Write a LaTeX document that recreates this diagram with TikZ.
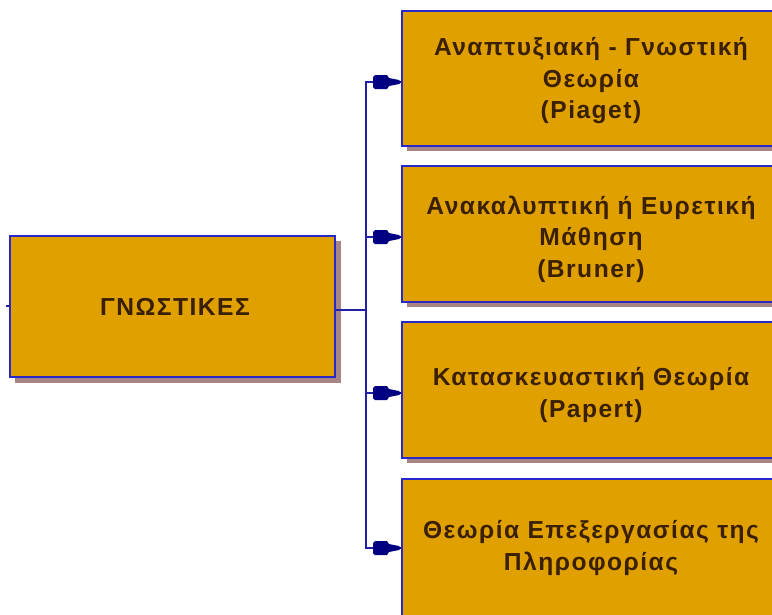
\documentclass[tikz,border=0pt]{standalone}
\usepackage{fontspec}
\setmainfont{Liberation Sans}[LetterSpace=6]
\begin{document}
\begin{tikzpicture}[x=1pt,y=-1pt,
  boxfill/.style={fill=boxc,draw=bordc,line width=1.6pt},
  lbl/.style={font=\bfseries\fontsize{24.6}{31.5}\selectfont,text=txtc,align=center,inner sep=0pt},
  conn/.style={draw=connc,line width=1.3pt}]
\definecolor{boxc}{HTML}{E0A000}
\definecolor{bordc}{HTML}{2828C8}
\definecolor{shadc}{HTML}{A88484}
\definecolor{txtc}{HTML}{3A2000}
\definecolor{connc}{HTML}{2020A8}
\definecolor{tipcol}{HTML}{000080}
\useasboundingbox (0,0) rectangle (772,614);
\clip (0,0) rectangle (772,614);
% shadows
\fill[shadc] (15,241) rectangle (341,383);
\foreach \t/\b in {11/146,166/302,322/458,479/630}{
  \fill[shadc] (407,\t+5) rectangle (800,\b+5);
}
% boxes
\draw[boxfill] (10,236) rectangle (335,377);
\node[lbl] (g) at (175,307) {ΓΝΩΣΤΙΚΕΣ};
\draw[boxfill] (402,11) rectangle (790,146);
\draw[boxfill] (402,166) rectangle (790,302);
\draw[boxfill] (402,322) rectangle (790,458);
\draw[boxfill] (402,479) rectangle (790,640);
\node[lbl] (b1) at (591,81) {Αναπτυξιακή - Γνωστική\\Θεωρία\\(Piaget)};
\node[lbl] (b2) at (591,239) {Ανακαλυπτική ή Ευρετική\\Μάθηση\\(Bruner)};
\node[lbl] (b3) at (591,395) {Κατασκευαστική Θεωρία\\(Papert)};
\node[lbl] (b4) at (591,548) {Θεωρία Επεξεργασίας της\\Πληροφορίας};
% anchor coordinates
\coordinate (gout) at (336,310);
\coordinate (tr) at (366,310);
\coordinate (ltick) at (6,306);
\coordinate (lin) at (10,306);
\draw[conn] (ltick) -- (lin);
\draw[conn] (gout) -- (tr);
\foreach \y/\n in {82/1,237/2,393/3,548/4}{
  \coordinate (e\n) at (401,\y);
  \draw[conn] (tr) |- (e\n);
  \fill[tipcol] (373,\y-5) -- (375,\y-7) -- (387,\y-7) -- (389,\y-4) -- (399,\y-2) -- (401,\y) -- (399,\y+2) -- (389,\y+4) -- (387,\y+7) -- (375,\y+7) -- (373,\y+5) -- cycle;
}
\end{tikzpicture}
\end{document}
